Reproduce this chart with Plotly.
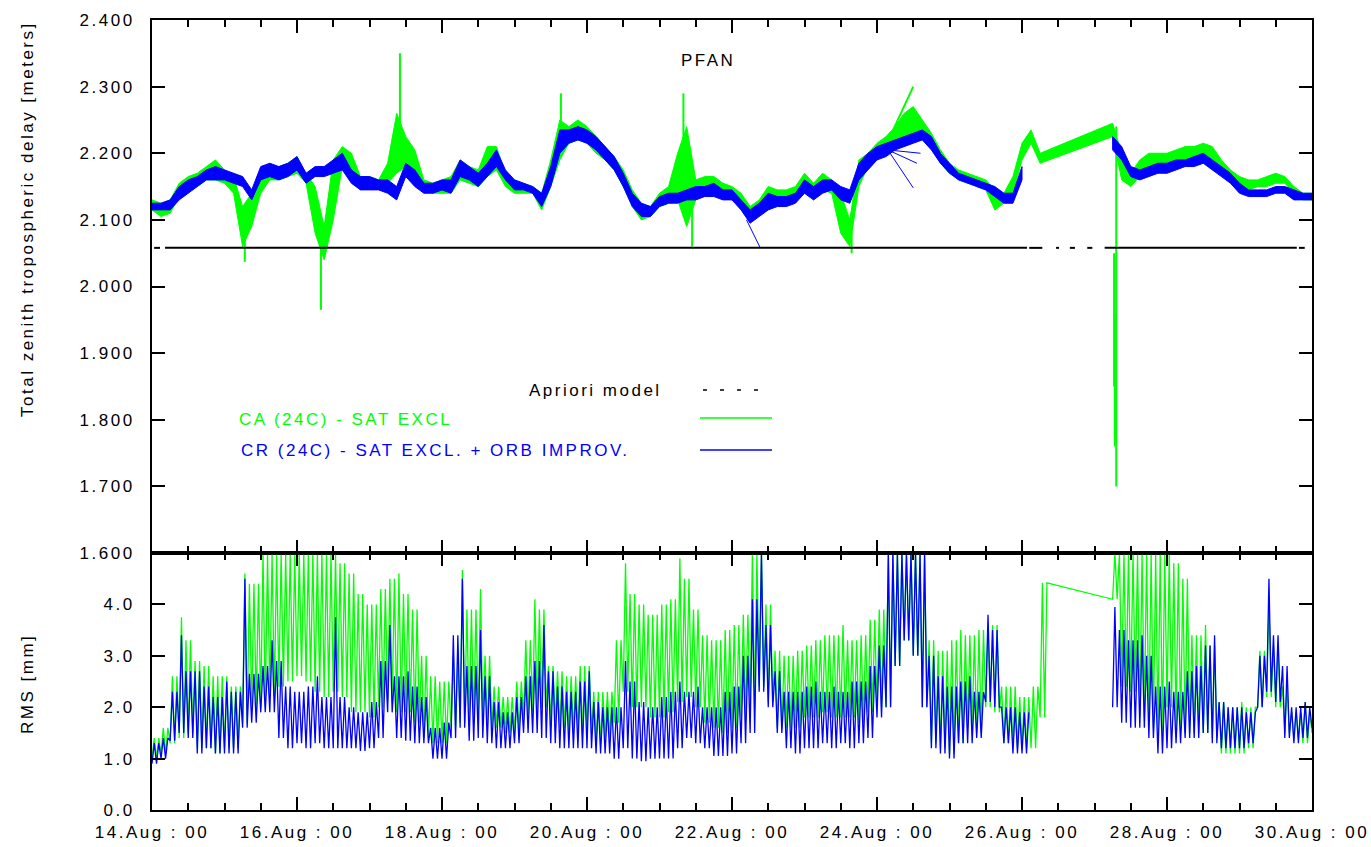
import plotly.graph_objects as go
import numpy as np

N = None
STEP = 0.125  # days (3 hours)
start_label_days = [0, 2, 4, 6, 8, 10, 12, 14, 16]
tick_text = ["14.Aug : 00", "16.Aug : 00", "18.Aug : 00", "20.Aug : 00", "22.Aug : 00",
             "24.Aug : 00", "26.Aug : 00", "28.Aug : 00", "30.Aug : 00"]

# ---------------- top panel: total zenith delay [m] (band low / high per 3 h) -------------
cr_top_lo = [2.115, 2.115, 2.115, 2.13, 2.14, 2.15, 2.16, 2.16,
             2.16, 2.155, 2.15, 2.13, 2.16, 2.165, 2.16, 2.165,
             2.175, 2.155, 2.165, 2.165, 2.17, 2.175, 2.155, 2.145,
             2.145, 2.145, 2.14, 2.13, 2.165, 2.15, 2.14, 2.14,
             2.145, 2.14, 2.165, 2.16, 2.15, 2.165, 2.18, 2.16,
             2.145, 2.145, 2.14, 2.12, 2.15, 2.2, 2.215, 2.22,
             2.215, 2.205, 2.19, 2.175, 2.15, 2.12, 2.105, 2.105,
             2.12, 2.125, 2.125, 2.13, 2.13, 2.135, 2.135, 2.13,
             2.13, 2.115, 2.095, 2.105, 2.115, 2.12, 2.12, 2.125,
             2.14, 2.13, 2.14, 2.145, 2.13, 2.125, 2.16, 2.175,
             2.19, 2.195, 2.205, 2.21, 2.215, 2.22, 2.205, 2.185,
             2.17, 2.16, 2.155, 2.15, 2.145, 2.135, 2.125, 2.125,
             2.16, N, N, N, N, N, N, N,
             N, N, 2.205, 2.19, 2.165, 2.16, 2.165, 2.17,
             2.17, 2.175, 2.18, 2.18, 2.185, 2.175, 2.165, 2.155,
             2.14, 2.135, 2.135, 2.135, 2.14, 2.14, 2.13, 2.13,
             2.13]
cr_top_hi = [2.125, 2.125, 2.13, 2.15, 2.16, 2.165, 2.175, 2.18,
             2.175, 2.17, 2.165, 2.145, 2.18, 2.185, 2.18, 2.185,
             2.195, 2.17, 2.18, 2.18, 2.19, 2.2, 2.175, 2.165,
             2.165, 2.16, 2.16, 2.15, 2.185, 2.175, 2.155, 2.155,
             2.16, 2.16, 2.19, 2.18, 2.17, 2.185, 2.205, 2.175,
             2.16, 2.155, 2.15, 2.14, 2.18, 2.235, 2.235, 2.24,
             2.235, 2.225, 2.21, 2.195, 2.17, 2.14, 2.125, 2.12,
             2.135, 2.14, 2.14, 2.145, 2.15, 2.15, 2.155, 2.145,
             2.145, 2.13, 2.115, 2.125, 2.14, 2.135, 2.135, 2.14,
             2.16, 2.15, 2.16, 2.16, 2.15, 2.145, 2.185, 2.2,
             2.21, 2.215, 2.22, 2.225, 2.23, 2.235, 2.225, 2.2,
             2.185, 2.17, 2.165, 2.16, 2.155, 2.15, 2.14, 2.14,
             2.18, N, N, N, N, N, N, N,
             N, N, 2.225, 2.21, 2.18, 2.175, 2.18, 2.185,
             2.185, 2.19, 2.19, 2.195, 2.2, 2.19, 2.18, 2.17,
             2.155, 2.145, 2.145, 2.145, 2.15, 2.15, 2.145, 2.14,
             2.14]
ca_top_lo = [2.115, 2.105, 2.11, 2.135, 2.145, 2.15, 2.16, 2.16,
             2.155, 2.14, 2.06, 2.09, 2.14, 2.16, 2.16, 2.165,
             2.17, 2.155, 2.08, 2.04, 2.1, 2.18, 2.16, 2.15,
             2.15, 2.15, 2.155, 2.17, 2.18, 2.16, 2.145, 2.14,
             2.14, 2.14, 2.16, 2.155, 2.15, 2.165, 2.175, 2.15,
             2.14, 2.14, 2.14, 2.115, 2.15, 2.19, 2.215, 2.22,
             2.215, 2.2, 2.19, 2.175, 2.15, 2.12, 2.1, 2.105,
             2.12, 2.125, 2.13, 2.09, 2.13, 2.14, 2.14, 2.135,
             2.13, 2.12, 2.1, 2.11, 2.125, 2.13, 2.13, 2.13,
             2.15, 2.135, 2.145, 2.14, 2.08, 2.06, 2.15, 2.18,
             2.19, 2.2, 2.21, 2.215, 2.225, 2.23, 2.21, 2.185,
             2.17, 2.165, 2.16, 2.15, 2.145, 2.115, 2.125, 2.14,
             2.19, 2.215, 2.185, N, N, N, N, N,
             N, N, 2.225, 2.16, 2.15, 2.165, 2.175, 2.18,
             2.18, 2.185, 2.19, 2.195, 2.2, 2.19, 2.17, 2.16,
             2.15, 2.145, 2.15, 2.15, 2.155, 2.155, 2.14, 2.13,
             2.13]
ca_top_hi = [2.13, 2.125, 2.13, 2.155, 2.165, 2.17, 2.18, 2.19,
             2.175, 2.165, 2.12, 2.14, 2.17, 2.18, 2.18, 2.185,
             2.195, 2.17, 2.15, 2.09, 2.19, 2.21, 2.2, 2.165,
             2.165, 2.16, 2.185, 2.26, 2.225, 2.205, 2.16, 2.155,
             2.16, 2.165, 2.19, 2.18, 2.175, 2.21, 2.21, 2.17,
             2.16, 2.155, 2.15, 2.14, 2.19, 2.25, 2.24, 2.25,
             2.24, 2.225, 2.21, 2.195, 2.175, 2.145, 2.125, 2.12,
             2.14, 2.15, 2.2, 2.24, 2.16, 2.165, 2.165, 2.155,
             2.15, 2.14, 2.12, 2.13, 2.15, 2.145, 2.145, 2.15,
             2.17, 2.155, 2.17, 2.16, 2.14, 2.1, 2.19, 2.2,
             2.215, 2.225, 2.24, 2.26, 2.27, 2.25, 2.23, 2.205,
             2.185, 2.175, 2.17, 2.165, 2.16, 2.145, 2.14, 2.165,
             2.215, 2.235, 2.2, N, N, N, N, N,
             N, N, 2.245, 2.2, 2.17, 2.19, 2.2, 2.2,
             2.2, 2.205, 2.21, 2.21, 2.215, 2.21, 2.19, 2.175,
             2.165, 2.16, 2.16, 2.165, 2.17, 2.165, 2.15, 2.14,
             2.14]

# thin single-line excursions in the top panel (day0, value0, day1, value1)
ca_thin_d0 = [1.28, 2.33, 3.42, 5.64, 7.33, 7.45, 9.65, 13.30, 13.28, 13.27, 10.18, 10.15]
ca_thin_v0 = [2.12, 2.09, 2.20, 2.22, 2.18, 2.13, 2.10, 2.24, 1.96, 2.05, 2.225, 2.215]
ca_thin_d1 = [1.28, 2.33, 3.42, 5.64, 7.33, 7.45, 9.65, 13.30, 13.28, 13.27, 10.50, 10.62]
ca_thin_v1 = [2.037, 1.965, 2.35, 2.29, 2.29, 2.06, 2.05, 1.70, 1.76, 1.85, 2.30, 2.25]
cr_thin_d0 = [8.20, 10.15, 10.15, 10.15]
cr_thin_v0 = [2.10, 2.205, 2.205, 2.205]
cr_thin_d1 = [8.39, 10.50, 10.60, 10.55]
cr_thin_v1 = [2.058, 2.148, 2.20, 2.185]

# a-priori model level and the spans where it is drawn (days)
apriori_value = 2.058
apriori_start = [0.03, 0.18, 12.10, 12.47, 12.66, 12.90, 13.14, 15.82]
apriori_end = [0.11, 12.07, 12.28, 12.51, 12.73, 12.97, 15.79, 15.90]

# ---------------- bottom panel: RMS [mm] (low / high per 3 h) -------------
cr_rms_lo = [0.9, 1.0, 1.35, 1.5, 1.4, 1.1, 1.2, 1.1,
             1.1, 1.1, 1.6, 1.7, 1.9, 1.9, 1.4, 1.2,
             1.3, 1.2, 1.3, 1.2, 1.2, 1.2, 1.2, 1.15,
             1.2, 1.4, 1.9, 1.4, 1.35, 1.3, 1.3, 1.0,
             1.0, 1.4, 1.6, 1.35, 1.4, 1.3, 1.2, 1.2,
             1.3, 1.5, 1.5, 1.4, 1.3, 1.2, 1.2, 1.2,
             1.2, 1.1, 1.1, 1.0, 1.2, 1.0, 0.95, 1.0,
             1.0, 1.0, 1.2, 1.4, 1.3, 1.2, 1.05, 1.05,
             1.1, 1.3, 1.5, 2.3, 2.0, 1.5, 1.2, 1.1,
             1.2, 1.2, 1.3, 1.2, 1.3, 1.2, 1.3, 1.4,
             1.8, 2.0, 2.8, 3.3, 3.0, 2.0, 1.2, 1.1,
             1.0, 1.3, 1.3, 1.4, 2.1, 2.0, 1.3, 1.1,
             1.1, N, N, N, N, N, N, N,
             N, N, 2.0, 1.7, 1.6, 1.6, 1.4, 1.1,
             1.2, 1.3, 1.4, 1.4, 1.5, 1.3, 1.2, 1.2,
             1.2, 1.3, 2.0, 2.3, 2.1, 1.4, 1.3, 1.4,
             1.6]
cr_rms_hi = [1.3, 1.4, 2.3, 3.4, 2.7, 2.7, 2.4, 2.2,
             2.5, 2.3, 4.5, 2.65, 2.8, 3.3, 2.9, 2.4,
             2.3, 2.4, 2.6, 2.2, 3.75, 2.2, 2.0, 1.9,
             2.1, 2.9, 3.6, 2.6, 2.7, 2.4, 2.2, 1.6,
             1.7, 3.4, 4.5, 2.8, 3.5, 2.6, 2.1, 1.9,
             2.2, 2.6, 2.9, 3.6, 2.7, 2.4, 2.3, 2.5,
             2.7, 2.1, 2.0, 2.0, 2.9, 2.5, 2.1, 2.0,
             2.2, 2.3, 2.5, 2.3, 2.4, 2.0, 2.0, 2.3,
             2.4, 3.0, 4.1, 5.0, 3.6, 2.7, 2.3, 2.3,
             2.4, 2.5, 2.3, 2.4, 2.3, 2.5, 2.5, 2.8,
             3.2, 5.0, 5.0, 5.0, 5.0, 5.0, 3.0, 2.6,
             2.4, 2.5, 2.6, 2.3, 3.8, 3.5, 2.0, 2.0,
             1.9, N, N, N, N, N, N, N,
             N, N, 3.95, 3.5, 3.3, 3.4, 3.0, 2.4,
             2.5, 2.3, 2.7, 2.8, 3.2, 3.4, 2.1, 2.0,
             2.0, 1.9, 3.0, 4.5, 3.4, 2.8, 2.0, 2.1,
             2.0]
ca_rms_lo = [1.0, 1.1, 1.3, 1.4, 1.5, 1.2, 1.2, 1.1,
             1.2, 1.2, 1.7, 2.0, 2.0, 2.2, 2.4, 2.5,
             2.6, 2.5, 2.3, 2.2, 2.3, 2.2, 1.9, 1.9,
             1.8, 2.0, 2.1, 1.9, 1.9, 1.7, 1.4, 1.3,
             1.3, 1.6, 1.7, 1.7, 1.8, 1.6, 1.6, 1.5,
             1.5, 1.8, 1.9, 2.0, 1.7, 1.6, 1.5, 1.5,
             1.5, 1.3, 1.4, 1.7, 2.3, 2.0, 2.0, 1.8,
             1.8, 1.9, 2.1, 2.2, 2.0, 1.7, 1.6, 1.5,
             1.6, 1.8, 2.0, 2.4, 2.1, 1.6, 1.6, 1.6,
             1.8, 1.8, 1.9, 1.8, 1.8, 1.8, 1.7, 1.9,
             2.0, 2.0, 2.8, 3.3, 3.0, 2.0, 1.3, 1.2,
             1.1, 1.3, 1.6, 1.5, 2.0, 1.9, 1.3, 1.2,
             1.2, 1.2, 1.8, N, N, N, N, N,
             N, N, 4.1, 2.4, 2.3, 1.8, 1.6, 1.5,
             2.0, 1.6, 1.5, 1.5, 1.5, 1.4, 1.1, 1.1,
             1.1, 1.2, 2.0, 2.2, 2.0, 1.5, 1.4, 1.3,
             1.5]
ca_rms_hi = [1.4, 1.6, 2.6, 3.75, 3.3, 2.9, 2.8, 2.6,
             2.6, 2.4, 4.6, 4.4, 5.0, 5.0, 5.0, 5.0,
             5.0, 5.0, 5.0, 5.0, 5.0, 4.8, 4.6, 4.2,
             4.0, 4.3, 4.5, 4.6, 4.2, 3.9, 3.0, 2.6,
             2.5, 3.0, 4.67, 3.9, 4.3, 3.0, 2.4, 2.2,
             2.5, 3.3, 4.1, 3.9, 2.8, 2.7, 2.6, 2.8,
             2.8, 2.3, 2.3, 3.3, 4.8, 4.2, 4.0, 3.8,
             4.0, 4.1, 4.9, 4.5, 3.9, 3.4, 3.3, 3.5,
             3.6, 3.8, 5.0, 5.0, 4.0, 3.1, 3.0, 3.1,
             3.2, 3.3, 3.4, 3.4, 3.6, 3.3, 3.4, 3.7,
             3.9, 5.0, 5.0, 5.0, 5.0, 5.0, 3.3, 3.1,
             3.3, 3.5, 3.4, 3.5, 3.6, 3.6, 2.4, 2.4,
             2.2, 2.4, 4.42, N, N, N, N, N,
             N, N, 5.0, 5.0, 5.0, 5.0, 5.0, 5.0,
             5.0, 4.8, 4.5, 3.4, 3.6, 3.2, 2.1, 2.0,
             2.1, 2.0, 3.1, 4.0, 3.2, 2.4, 1.9, 2.1,
             1.9]

GREEN = "#00ff00"
BLUE = "#0000ff"
FONT = "Liberation Sans, Arial, sans-serif"
LS = 2.5  # letter spacing px


def sp(s):
    return '<span style="letter-spacing:%spx">%s</span>' % (LS, s)


days = np.arange(len(cr_top_lo)) * STEP


def band(lo, hi, connect):
    segs, cur = [], []
    for t, l, h in zip(days, lo, hi):
        if l is None:
            if not connect and cur:
                segs.append(cur)
                cur = []
            continue
        cur.append((t, l, h))
    if cur:
        segs.append(cur)
    xs, ys = [], []
    for s in segs:
        xs += [p[0] for p in s] + [p[0] for p in s[::-1]] + [s[0][0], None]
        ys += [p[2] for p in s] + [p[1] for p in s[::-1]] + [s[0][2], None]
    return xs, ys


def comb(lo, hi):
    """vertical strokes between the low and high envelope of each 3-h sample"""
    xs, ys = [], []
    n = len(lo)
    for i in range(n):
        t, l, h = days[i], lo[i], hi[i]
        if l is None:
            xs.append(None)
            ys.append(None)
            continue
        h2 = h
        if i + 1 < n and hi[i + 1] is not None:
            h2 = min(h, hi[i + 1])
        xs += [t, t + STEP / 4, t + STEP / 2, t + 3 * STEP / 4]
        ys += [l, h, l, h2]
    return xs, ys


def thin(d0, v0, d1, v1):
    xs, ys = [], []
    for a, b, c, d in zip(d0, v0, d1, v1):
        xs += [a, c, None]
        ys += [b, d, None]
    return xs, ys


fig = go.Figure()

# top panel
x, y = band(ca_top_lo, ca_top_hi, True)
fig.add_trace(go.Scatter(x=x, y=y, mode="lines", fill="toself", fillcolor=GREEN,
                         line=dict(color=GREEN, width=1), xaxis="x", yaxis="y"))
x, y = thin(ca_thin_d0, ca_thin_v0, ca_thin_d1, ca_thin_v1)
fig.add_trace(go.Scatter(x=x, y=y, mode="lines", line=dict(color=GREEN, width=2),
                         xaxis="x", yaxis="y"))
x, y = band(cr_top_lo, cr_top_hi, False)
fig.add_trace(go.Scatter(x=x, y=y, mode="lines", fill="toself", fillcolor=BLUE,
                         line=dict(color=BLUE, width=1), xaxis="x", yaxis="y"))
x, y = thin(cr_thin_d0, cr_thin_v0, cr_thin_d1, cr_thin_v1)
fig.add_trace(go.Scatter(x=x, y=y, mode="lines", line=dict(color=BLUE, width=1),
                         xaxis="x", yaxis="y"))
ax, ay = [], []
for a, b in zip(apriori_start, apriori_end):
    ax += [a, b, None]
    ay += [apriori_value, apriori_value, None]
fig.add_trace(go.Scatter(x=ax, y=ay, mode="lines", line=dict(color="black", width=2),
                         xaxis="x", yaxis="y"))

# bottom panel
x, y = comb(ca_rms_lo, ca_rms_hi)
fig.add_trace(go.Scatter(x=x, y=y, mode="lines", connectgaps=True,
                         line=dict(color=GREEN, width=1.3), xaxis="x2", yaxis="y2"))
x, y = comb(cr_rms_lo, cr_rms_hi)
fig.add_trace(go.Scatter(x=x, y=y, mode="lines", connectgaps=False,
                         line=dict(color=BLUE, width=1.3), xaxis="x2", yaxis="y2"))

W, H = 1371, 847
L, R, T, B = 152, 1312, 20, 810
SPLIT = 553


def px(v):
    return (v - L) / (R - L)


def py(v):
    return (B - v) / (B - T)


tickfont = dict(family=FONT, size=17, color="black")
common_x = dict(range=[0, 16], tickvals=start_label_days, ticks="inside", ticklen=13,
                tickwidth=1.5, tickcolor="black", showline=True, linecolor="black",
                linewidth=2, mirror="ticks", showgrid=False, zeroline=False,
                automargin=False,
                minor=dict(dtick=0.5, ticks="inside", ticklen=7, tickwidth=1.5,
                           tickcolor="black", showgrid=False))
common_y = dict(ticks="inside", ticklen=13, tickwidth=1.5, tickcolor="black",
                showline=True, linecolor="black", linewidth=2, mirror="ticks",
                showgrid=False, zeroline=False, tickfont=tickfont, ticklabelstandoff=12,
                automargin=False)
top_ticks = [1.6, 1.7, 1.8, 1.9, 2.0, 2.1, 2.2, 2.3, 2.4]
rms_ticks = [0, 1, 2, 3, 4]
fig.update_layout(
    width=W, height=H, margin=dict(l=L, r=W - R, t=T, b=H - B, autoexpand=False),
    paper_bgcolor="white", plot_bgcolor="white", showlegend=False,
    xaxis=dict(common_x, anchor="y", showticklabels=False, domain=[0, 1]),
    xaxis2=dict(common_x, anchor="y2", matches="x", showticklabels=True,
                ticktext=[sp(t) for t in tick_text], tickfont=tickfont,
                ticklabelstandoff=6),
    yaxis=dict(common_y, domain=[py(SPLIT), 1], range=[1.6, 2.4], tickvals=top_ticks,
               ticktext=[sp("%.3f" % v) for v in top_ticks], anchor="x"),
    yaxis2=dict(common_y, domain=[0, py(SPLIT)], range=[0, 5], tickvals=rms_ticks,
                ticktext=[sp("%.1f" % v) for v in rms_ticks], anchor="x2"),
)

ann_font = dict(family=FONT, size=17, color="black")
anns = [
    dict(text=sp("PFAN"), x=px(708), y=py(60), xanchor="center", yanchor="middle", font=ann_font),
    dict(text=sp("Total zenith tropospheric delay [meters]"), x=px(27), y=py(219),
         xanchor="center", yanchor="middle", textangle=-90, font=ann_font),
    dict(text=sp("RMS [mm]"), x=px(27), y=py(684), xanchor="center", yanchor="middle",
         textangle=-90, font=ann_font),
    dict(text=sp("Apriori model"), x=px(664), y=py(390), xanchor="right", yanchor="middle",
         font=ann_font),
    dict(text=sp("CA (24C) - SAT EXCL"), x=px(237), y=py(419), xanchor="left",
         yanchor="middle", font=dict(ann_font, color=GREEN)),
    dict(text=sp("CR (24C) - SAT EXCL. + ORB IMPROV."), x=px(239), y=py(450),
         xanchor="left", yanchor="middle", font=dict(ann_font, color=BLUE)),
]
for a in anns:
    a.update(xref="paper", yref="paper", showarrow=False)
fig.update_layout(annotations=anns)

shapes = [
    dict(type="line", x0=px(703), x1=px(760), y0=py(390), y1=py(390),
         line=dict(color="black", width=1.5, dash="4px,13px")),
    dict(type="line", x0=px(700), x1=px(772), y0=py(418), y1=py(418),
         line=dict(color=GREEN, width=1.5)),
    dict(type="line", x0=px(700), x1=px(772), y0=py(450), y1=py(450),
         line=dict(color=BLUE, width=1.5)),
    dict(type="line", x0=0, x1=1, y0=py(SPLIT), y1=py(SPLIT),
         line=dict(color="black", width=3.5)),
]
for s in shapes:
    s.update(xref="paper", yref="paper")
fig.update_layout(shapes=shapes)

fig.write_html("out.html")
